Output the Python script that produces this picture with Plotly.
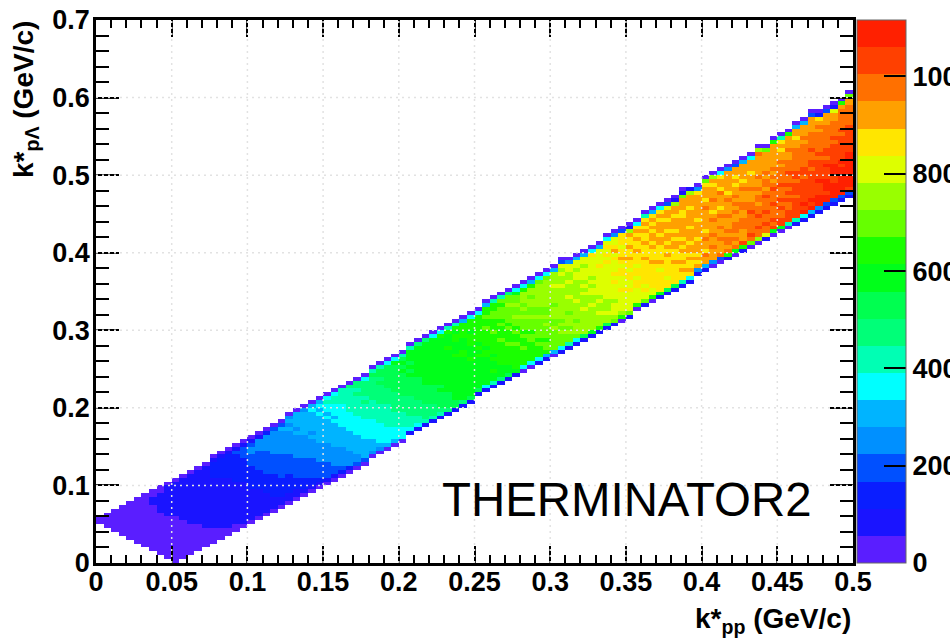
import plotly.graph_objects as go

# ---------- data ----------
x_tick_values = [0, 0.05, 0.1, 0.15, 0.2, 0.25, 0.3, 0.35, 0.4, 0.45, 0.5]
x_tick_labels = ["0", "0.05", "0.1", "0.15", "0.2", "0.25", "0.3", "0.35", "0.4", "0.45", "0.5"]
y_tick_values = [0, 0.1, 0.2, 0.3, 0.4, 0.5, 0.6, 0.7]
y_tick_labels = ["0", "0.1", "0.2", "0.3", "0.4", "0.5", "0.6", "0.7"]
bar_tick_values = [0, 200, 400, 600, 800, 1000]
bar_tick_labels = ["0", "200", "400", "600", "800", "1000"]
bin_width = 0.005
n_x_bins = 100
n_y_bins = 140
count_step = 55.8

palette = ["#5A1EFF", "#1A14FF", "#0A1EFF", "#0050FF", "#0090FF", "#00B4FF", "#00FFFF",
           "#00FFB4", "#00FF78", "#00FF50", "#00FF1A", "#1AFF00", "#66FF00", "#99FF00",
           "#DDFF00", "#FFE600", "#FFA000", "#FF7000", "#FF4000", "#FF2000"]

level_digits = "0123456789abcdefghij"

# first occupied y bin of each x bin
first_y_bin = [10, 9, 8, 7, 6, 5, 4, 3, 2, 1,
               0, 1, 2, 3, 4, 5, 6, 7, 8, 9,
               10, 11, 12, 13, 14, 15, 16, 17, 18, 19,
               20, 21, 22, 23, 24, 25, 27, 28, 29, 30,
               31, 33, 34, 35, 36, 37, 38, 39, 40, 41,
               43, 44, 45, 46, 47, 48, 49, 50, 51, 52,
               53, 54, 55, 56, 57, 58, 59, 60, 61, 62,
               63, 65, 66, 67, 68, 69, 70, 71, 72, 74,
               75, 76, 77, 78, 79, 80, 81, 82, 83, 84,
               85, 86, 87, 88, 89, 90, 91, 92, 93, 94]

# colour level of each occupied cell, bottom to top, one string per x bin
column_levels = [
    "00", "0000", "000000", "00000000", "0000000000",
    "000000000000", "00000000000000", "0000000000001100",
    "000000000001111100", "00000000000111111110",
    "0000000000001111111110", "0000000000111111111110",
    "0000000011111111111110", "0000000111111111111110",
    "0000011111111111111110", "00001111111111111222210",
    "00011111111111112222210", "00111111111111122222210",
    "00111111111112222222310", "01111111111122222233310",
    "01111111122222233344310", "01111111222223333344410",
    "01111122222333333444420", "01112222223333344444430",
    "01122222333333444444530", "011222223333344444454540",
    "011222333334444445455550", "012223333344444455555540",
    "012233333444445455555650", "012333344444555555565650",
    "013333444445555556566760", "013344444555555656667760",
    "023444445555566666677770", "024444555556666677777780",
    "034455555666667777787880", "035555566666777787888860",
    "045556666677777888888970", "045666667777788888989970",
    "056666777777888899999960", "056667777888889999999a60",
    "066677778888999999a9a970", "167778888899999a9a9aaa70",
    "16778888999999aaaaaaaa80", "17888899999aaaaaaaaaaa80",
    "1788899999aaaaaaaaaaaa60", "1789999a9aaaaaaaaaaaab60",
    "189999aaaaaaaaaaabaaab70", "199aaaaaaaaaaabaaabbab70",
    "18aaaaaaaaaaabbaaabbbb50", "19aaaaaaaaabaaabbbabbb60",
    "19aaaaaaaabababbbbbbb60", "16aaaaaaabbabbbbcbbcbb50",
    "17aabaababbbbbcbbbccbb70", "18aaabbbbbbcbbbcbcccbc70",
    "19aabbbbbcbbbcbccccdcc80", "1abbbbbbcbbcbccdccdcca60",
    "06bbbbcbbcbcccdcdcdddb60", "06bbbbbccbcccdccddcddb50",
    "16bbbcbcccccdccddddddc60", "15bccbcccdcdccdddddddc60",
    "05cccccdccdddcddddeddd50", "16cccdcdcddddddddeddede30",
    "17ccdcdddcdddedddeddee40", "16cdddcddddedddddeedee50",
    "19ddddddedddededeeedee50", "1addddddeddeededeeeeef60",
    "1bdddeddedeeeeeeefeeee50", "19ddedddeeeeeeeeefefefe60",
    "1cdeeedeeeefefeeefegfee40", "0bdeeeeefeeeffefgffefff30",
    "1ceeeeefeeffeffgffgffgd10", "0beeeeffeffefffgffgfgf60",
    "1ceefeffffffgfffgffgfgf70", "0beeffffffgfffgfggfgfgf50",
    "1afffffefgffffggfgggfgf60", "19ffefffffgfgfggfggfgge30",
    "19fffffgfffggfgfgggfggd10", "17ffgfgffgfgfgggggffgggc10",
    "16fgffgfggfgggfggggfgggd1", "14gfgfgggfggggfggggggf40",
    "15gghfgghgfggggghgfgggfc0", "04ggghgghggghgfgghgggfgd0",
    "03hggghgghgghgfggghfggf60", "1bhghhghggghggghgfggggg40",
    "0ahghghhhgghghghggfgfgg30", "1biggghhhgghhggghgfgggg50",
    "0chihhhhhihhggghgggfggg60", "0dhhihhihhghhghgghggggghd0",
    "1ehhihhihhhihghhghgggggc0", "0aihihhhihhhihghghggggggb0",
    "0aiihhihihhhihhhhghggfgf70", "07iiihhihihihhihhhgghgggb0",
    "17iiiiihiiihiihhhhhhggfgg50", "16jijiiiiiihiihhhhhhghggg50",
    "15jijiiiiiiihiihhihhhhgggg30", "14jjjiiijiiiiihihhhhhghgf20",
    "13jjijjjiiijihiihhhhhhggg30", "13jjjjiijjjiiiiihihhhhgge10",
    "13jjjjjjjijiiiiiihihhhhhgb0", "13ijjjjjjjjjiiiiiiihhhhhggc0",
]

# ---------- build the histogram ----------
z = [[None] * n_x_bins for _ in range(n_y_bins)]
for col, (start, cells) in enumerate(zip(first_y_bin, column_levels)):
    for k, ch in enumerate(cells):
        z[start + k][col] = (level_digits.index(ch) + 0.5) * count_step

n = len(palette)
colorscale = []
for i, c in enumerate(palette):
    colorscale += [[i / n, c], [(i + 1) / n, c]]

W, H = 950, 639
L, R, T, B = 96, 853, 20, 563

BOLD = "Liberation Sans"
tick_font = dict(family=BOLD, size=27, color="black", weight="bold")

fig = go.Figure(go.Heatmap(
    z=z, x0=bin_width / 2, dx=bin_width, y0=bin_width / 2, dy=bin_width,
    zmin=0, zmax=n * count_step, colorscale=colorscale, hoverongaps=False,
    colorbar=dict(
        x=(857 - L) / (R - L), xanchor="left", xpad=0, ypad=0,
        y=0.5, len=1, thicknessmode="pixels", thickness=49,
        tickmode="array", tickvals=bar_tick_values, ticktext=bar_tick_labels,
        ticks="inside", ticklen=22, tickwidth=1.5, tickcolor="black",
        tickfont=tick_font, outlinecolor="#666666", outlinewidth=1,
    ),
))

grid_style = dict(color="rgba(226,226,226,1)", width=1.5, dash="2px,4px")
for v in x_tick_values[1:-1]:
    fig.add_shape(type="line", xref="x", yref="y", x0=v, x1=v, y0=0, y1=0.7, line=grid_style)
for v in y_tick_values[1:-1]:
    fig.add_shape(type="line", xref="x", yref="y", x0=0, x1=0.5, y0=v, y1=v, line=grid_style)

axis_common = dict(showgrid=False, zeroline=False, showline=True, linecolor="black", linewidth=2.5,
                   mirror="ticks", ticks="inside", tickcolor="black", tickwidth=1.5,
                   tickfont=tick_font, tickmode="array")
fig.update_xaxes(range=[0, 0.5], tickvals=x_tick_values, ticktext=x_tick_labels, ticklen=17,
                 ticklabelstandoff=-7,
                 minor=dict(dtick=0.01, tick0=0, ticks="inside", ticklen=8, tickwidth=1.5, tickcolor="black"),
                 **axis_common)
fig.update_yaxes(range=[0, 0.7], tickvals=y_tick_values, ticktext=y_tick_labels, ticklen=23,
                 ticklabelstandoff=-2,
                 minor=dict(dtick=0.02, tick0=0, ticks="inside", ticklen=13, tickwidth=1.5, tickcolor="black"),
                 **axis_common)

fig.add_annotation(text="THERMINATOR2", xref="paper", yref="paper",
                   x=(627 - L) / (R - L), xanchor="center", y=(B - 499) / (B - T), yanchor="middle",
                   showarrow=False, font=dict(family="Liberation Sans", size=47.4, color="black"))
fig.add_annotation(text="<b>k*<sub>pp</sub> (GeV/c)</b>", xref="paper", yref="paper",
                   x=1, xanchor="right", y=(B - 620) / (B - T), yanchor="middle", showarrow=False,
                   font=dict(family=BOLD, size=28, color="black"))
fig.add_annotation(text="<b>k*<sub>p\u039b</sub> (GeV/c)</b>", xref="paper", yref="paper",
                   x=(26 - L) / (R - L), xanchor="center", y=(B - 100) / (B - T), yanchor="middle",
                   textangle=-90, showarrow=False,
                   font=dict(family=BOLD, size=28, color="black"))

fig.update_layout(
    width=W, height=H, paper_bgcolor="white", plot_bgcolor="white", showlegend=False,
    margin=dict(l=L, r=W - R, t=T, b=H - B, pad=0, autoexpand=False),
)

fig.write_html("out.html", config=dict(displayModeBar=False),
               post_script="document.body.style.margin='0';document.body.style.overflow='hidden';")
